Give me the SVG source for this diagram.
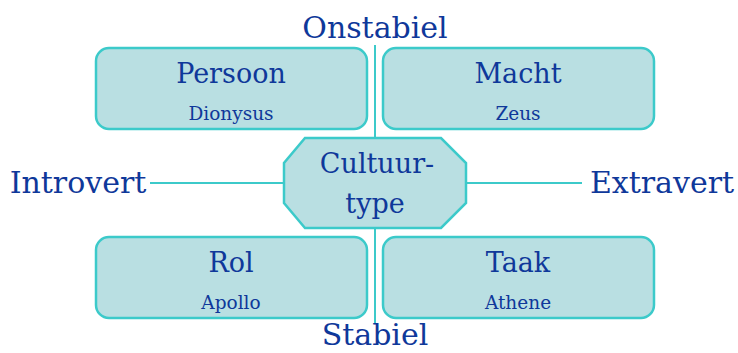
<svg xmlns="http://www.w3.org/2000/svg" width="738" height="353" viewBox="0 0 738 353">
  <style>
    .box { fill: #b9dfe2; stroke: #3ccaca; stroke-width: 2.5; }
    .axis { stroke: #3ccaca; stroke-width: 2; fill: none; }
    text { font-family: "DejaVu Serif", "Liberation Serif", serif; fill: #0f389a; text-anchor: middle; }
    .title { font-size: 27px; }
    .sub { font-size: 18.5px; }
    .pole { font-size: 30px; }
  </style>
  <rect width="738" height="353" fill="#ffffff"/>
  <!-- axes -->
  <g id="connectors">
    <line class="axis" x1="375" y1="45" x2="375" y2="324"/>
    <line class="axis" x1="150" y1="183" x2="582" y2="183"/>
  </g>
  <!-- axis poles -->
  <g id="poles">
    <text class="pole" x="375" y="38">Onstabiel</text>
    <text class="pole" x="375" y="345">Stabiel</text>
    <text class="pole" x="78" y="193">Introvert</text>
    <text class="pole" x="662" y="193">Extravert</text>
  </g>
  <g id="persoon">
    <rect class="box" x="96" y="48" width="271" height="81" rx="13"/>
    <text class="title" x="231" y="83">Persoon</text>
    <text class="sub" x="231" y="120">Dionysus</text>
  </g>
  <g id="macht">
    <rect class="box" x="383" y="48" width="271" height="81" rx="13"/>
    <text class="title" x="518" y="83">Macht</text>
    <text class="sub" x="518" y="120">Zeus</text>
  </g>
  <g id="rol">
    <rect class="box" x="96" y="237" width="271" height="81" rx="13"/>
    <text class="title" x="231" y="272">Rol</text>
    <text class="sub" x="231" y="309">Apollo</text>
  </g>
  <g id="taak">
    <rect class="box" x="383" y="237" width="271" height="81" rx="13"/>
    <text class="title" x="518" y="272">Taak</text>
    <text class="sub" x="518" y="309">Athene</text>
  </g>
  <g id="cultuurtype">
    <polygon class="box" points="305,138 441,138 466,163 466,203 441,228 305,228 284,203 284,163"/>
    <text class="title" x="377" y="173">Cultuur-</text>
    <text class="title" x="375" y="213">type</text>
  </g>
</svg>
